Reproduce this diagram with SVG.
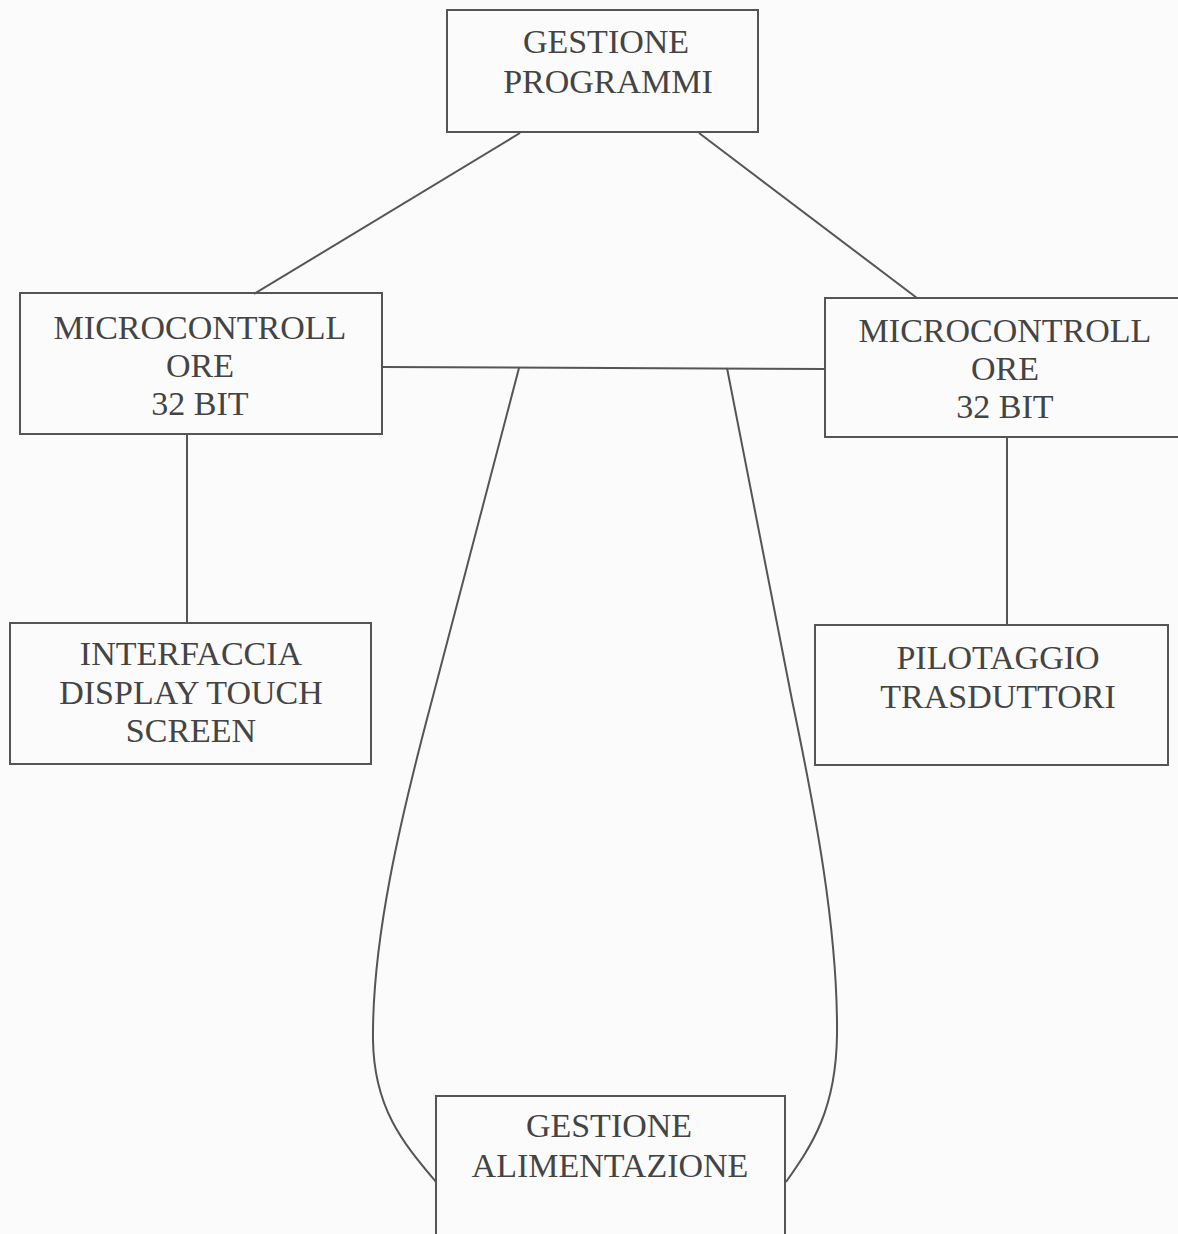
<svg xmlns="http://www.w3.org/2000/svg" width="1178" height="1234" viewBox="0 0 1178 1234">
<style>
.box{fill:none;stroke:#555;stroke-width:2}
.ln{fill:none;stroke:#555;stroke-width:2}
.t{font-family:"Liberation Serif","Times New Roman",serif;font-size:34px;fill:#444;text-anchor:middle}
</style>
<rect x="0" y="0" width="1178" height="1234" fill="#fbfbfc"/>
<g id="connectors">
<line class="ln" x1="520" y1="133" x2="254" y2="294"/>
<line class="ln" x1="699" y1="133" x2="917" y2="298"/>
<line class="ln" x1="382" y1="367" x2="825" y2="369"/>
<line class="ln" x1="187" y1="434" x2="187" y2="623"/>
<line class="ln" x1="1007" y1="437" x2="1007" y2="625"/>
<path class="ln" d="M519,368 L432,700 C400,820 372,940 373,1040 C374,1110 405,1145 436,1182"/>
<path class="ln" d="M727,368 L792,700 C815,810 838,930 837,1035 C836,1110 812,1145 786,1182"/>
</g>
<g id="gestione-programmi">
<rect class="box" x="447" y="10" width="311" height="122"/>
<text class="t" x="606" y="53">GESTIONE</text>
<text class="t" x="608" y="93">PROGRAMMI</text>
</g>
<g id="micro-left">
<rect class="box" x="20" y="293" width="362" height="141"/>
<text class="t" x="200" y="339">MICROCONTROLL</text>
<text class="t" x="200" y="377">ORE</text>
<text class="t" x="200" y="415">32 BIT</text>
</g>
<g id="micro-right">
<rect class="box" x="825" y="298" width="362" height="139"/>
<text class="t" x="1005" y="342">MICROCONTROLL</text>
<text class="t" x="1005" y="380">ORE</text>
<text class="t" x="1005" y="418">32 BIT</text>
</g>
<g id="interfaccia">
<rect class="box" x="10" y="623" width="361" height="141"/>
<text class="t" x="191" y="665">INTERFACCIA</text>
<text class="t" x="191" y="704">DISPLAY TOUCH</text>
<text class="t" x="191" y="742">SCREEN</text>
</g>
<g id="pilotaggio">
<rect class="box" x="815" y="625" width="353" height="140"/>
<text class="t" x="998" y="669">PILOTAGGIO</text>
<text class="t" x="998" y="708">TRASDUTTORI</text>
</g>
<g id="gestione-alimentazione">
<rect class="box" x="436" y="1096" width="349" height="150"/>
<text class="t" x="609" y="1137">GESTIONE</text>
<text class="t" x="610" y="1177">ALIMENTAZIONE</text>
</g>
</svg>
